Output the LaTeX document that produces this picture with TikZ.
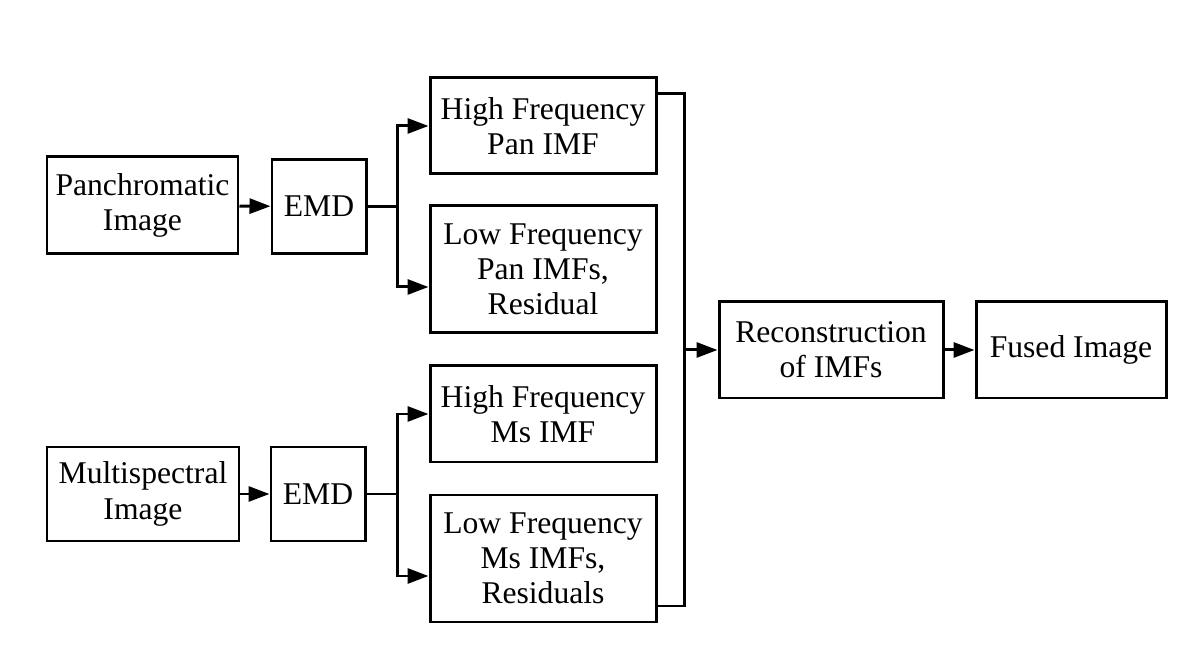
\documentclass[tikz,border=0pt]{standalone}
\usepackage{fontspec}
\setmainfont{Liberation Serif}
\usetikzlibrary{arrows.meta}

\begin{document}
\begin{tikzpicture}[line width=1.7pt, >={Triangle[length=0.42cm,width=0.3cm]},
  blk/.style={draw=black, rectangle, align=center, inner sep=0.5mm, font=\fontsize{18}{20}\selectfont}]
\useasboundingbox (0,0) rectangle (24,13.2);
\node (pan) at (2.85,9.09) [blk, minimum width=3.82cm, minimum height=1.94cm] {Panchromatic\\Image};
\node (emd1) at (6.38,9.07) [blk, minimum width=1.88cm, minimum height=1.88cm] {EMD};
\node (hfp) at (10.86,10.68) [blk, minimum width=4.52cm, minimum height=1.92cm] {High Frequency\\Pan IMF};
\node (lfp) at (10.86,7.81) [blk, minimum width=4.52cm, minimum height=2.54cm] {Low Frequency\\Pan IMFs,\\Residual};
\node (ms) at (2.86,3.32) [blk, minimum width=3.84cm, minimum height=1.88cm] {Multispectral\\Image};
\node (emd2) at (6.36,3.32) [blk, minimum width=1.88cm, minimum height=1.88cm] {EMD};
\node (hfm) at (10.86,4.92) [blk, minimum width=4.52cm, minimum height=1.92cm] {High Frequency\\Ms IMF};
\node (lfm) at (10.86,2.03) [blk, minimum width=4.52cm, minimum height=2.54cm] {Low Frequency\\Ms IMFs,\\Residuals};
\node (rec) at (16.62,6.2) [blk, minimum width=4.48cm, minimum height=1.92cm] {Reconstruction\\of IMFs};
\node (fus) at (21.42,6.2) [blk, minimum width=3.8cm, minimum height=1.92cm] {Fused Image};
\coordinate (j1) at (7.94,9.07);
\coordinate (j2) at (7.94,3.32);
\coordinate (jr) at (13.69,6.2);
\draw[->] (pan) -- (emd1);
\draw[->] (ms) -- (emd2);
\draw[-] (emd1) -- (j1);
\draw[-] (emd2) -- (j2);
\draw[->] (j1) |- (hfp.west);
\draw[->] (j1) |- ([yshift=-0.35cm]lfp.west);
\draw[->] (j2) |- (hfm.west);
\draw[->] (j2) |- ([yshift=-0.35cm]lfm.west);
\draw[-] ([yshift=0.64cm]hfp.east) -| (jr);
\draw[-] ([yshift=-0.95cm]lfm.east) -| (jr);
\draw[->] (jr) -- (rec);
\draw[->] (rec) -- (fus);
\end{tikzpicture}
\end{document}
